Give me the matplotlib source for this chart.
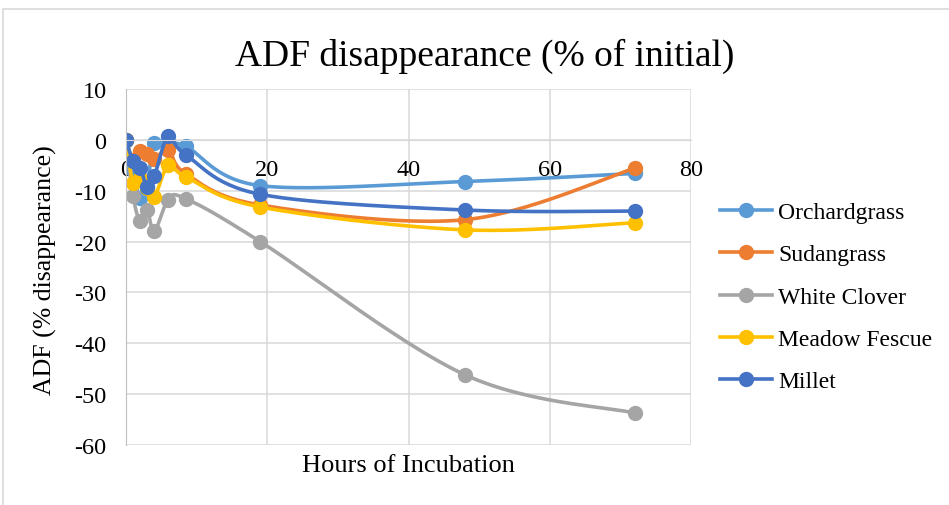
import numpy as np
import matplotlib
matplotlib.use("Agg")
import matplotlib.pyplot as plt
from matplotlib.patches import Rectangle

plt.rcParams['font.family'] = ['Liberation Serif', 'DejaVu Serif']
plt.rcParams['axes.unicode_minus'] = False

hours = [0, 1, 2, 3, 4, 6, 8.5, 19, 48, 72]
orchardgrass = [0, -6, -11.5, -9, -0.6, -1, -1.3, -9.0, -8.2, -6.6]
sudangrass = [0, -4, -2.2, -2.7, -3.8, -2, -6.7, -12.8, -15.7, -5.6]
white_clover = [0, -11, -16, -13.8, -18, -11.8, -11.6, -20, -46.2, -53.7]
meadow_fescue = [0, -8.5, -7.5, -9.5, -11.3, -5, -7.3, -13.2, -17.7, -16.3]
millet = [0, -4.2, -5.5, -9.3, -7.2, 0.7, -3.0, -10.7, -13.8, -14.0]

names = ['Orchardgrass', 'Sudangrass', 'White Clover', 'Meadow Fescue', 'Millet']
series = [orchardgrass, sudangrass, white_clover, meadow_fescue, millet]
colors = ['#5B9BD5', '#ED7D31', '#A5A5A5', '#FFC000', '#4472C4']


def smooth(x, y, n=30):
    # excel-like smoothed line (catmull-rom bezier)
    x = np.asarray(x, float)
    y = np.asarray(y, float)
    p = np.column_stack([x, y])
    out = [p[0]]
    t = np.linspace(0, 1, n)[1:]
    for i in range(len(p) - 1):
        p0 = p[i - 1] if i > 0 else p[i]
        p3 = p[i + 2] if i + 2 < len(p) else p[i + 1]
        c1 = p[i] + (p[i + 1] - p0) / 6
        c2 = p[i + 1] - (p3 - p[i]) / 6
        for tt in t:
            b = ((1 - tt) ** 3 * p[i] + 3 * (1 - tt) ** 2 * tt * c1
                 + 3 * (1 - tt) * tt ** 2 * c2 + tt ** 3 * p[i + 1])
            out.append(b)
    out = np.array(out)
    return out[:, 0], out[:, 1]


fig = plt.figure(figsize=(9.49, 5.06), dpi=100)
fig.patches.append(Rectangle((3 / 949, -0.05), 1.05, 1.05 - 10 / 506,
                             transform=fig.transFigure, fill=False,
                             edgecolor='#D9D9D9', linewidth=1.2))
ax = fig.add_axes([126 / 949, 1 - 446 / 506, (691 - 126) / 949, (446 - 90) / 506])

for name, vals, c in zip(names, series, colors):
    sx, sy = smooth(hours, vals)
    ax.plot(sx, sy, color=c, linewidth=2.6, solid_capstyle='round')
    ax.plot(hours, vals, 'o', color=c, markersize=10)
handles = [plt.Line2D([], [], color=c, linewidth=2.6, marker='o', markersize=10)
           for c in colors]

ax.set_xlim(0, 80)
ax.set_ylim(-60, 10)
ax.set_xticks([0, 20, 40, 60, 80])
ax.set_yticks(np.arange(-60, 11, 10))
ax.grid(True, color='#D9D9D9', linewidth=1.1)
ax.set_axisbelow(True)
for s in ['top', 'right']:
    ax.spines[s].set_visible(False)
ax.spines['bottom'].set_position(('data', 0))
ax.spines['bottom'].set_color('#D9D9D9')
ax.spines['left'].set_color('#BFBFBF')
ax.tick_params(axis='both', length=0, labelsize=17.5)
ax.tick_params(axis='x', pad=14)
ax.tick_params(axis='y', pad=14)

fig.text(485 / 949, 1 - 56 / 506, 'ADF disappearance (% of initial)', fontsize=27,
         ha='center', va='center')
fig.text(408 / 949, 1 - 466 / 506, 'Hours of Incubation', fontsize=19,
         ha='center', va='center')
fig.text(45 / 949, 1 - 270 / 506, 'ADF (% disappearance)', fontsize=18.6,
         ha='center', va='center', rotation=90)

fig.legend(handles, names, loc='center left', bbox_to_anchor=(699 / 949, 1 - 298 / 506),
           frameon=False, fontsize=17, handlelength=2.2, labelspacing=0.88,
           handletextpad=0.25)

fig.savefig('out.png', dpi=100)
